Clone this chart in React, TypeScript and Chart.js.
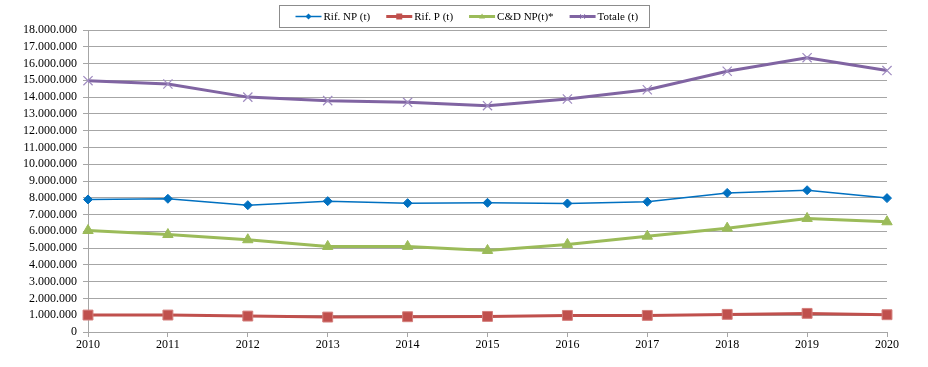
import React, { useEffect, useRef } from 'react';
import { Chart, registerables } from 'chart.js';

Chart.register(...registerables);

const years = ['2010', '2011', '2012', '2013', '2014', '2015', '2016', '2017', '2018', '2019', '2020'];
const rifNP = [7900000, 7940000, 7560000, 7800000, 7680000, 7700000, 7660000, 7760000, 8290000, 8450000, 7980000];
const rifP = [1010000, 1010000, 950000, 890000, 910000, 930000, 990000, 990000, 1050000, 1110000, 1030000];
const cdNP = [6050000, 5810000, 5500000, 5100000, 5100000, 4860000, 5220000, 5710000, 6190000, 6770000, 6570000];
const totale = [14980000, 14780000, 14000000, 13790000, 13690000, 13490000, 13890000, 14440000, 15540000, 16350000, 15580000];
const seriesLabels = ['Rif. NP (t)', 'Rif. P (t)', 'C&D NP(t)*', 'Totale (t)'];

const FONT = '"Liberation Serif", "Times New Roman", serif';

function fmt(v: number): string {
  return String(Math.round(v)).replace(/\B(?=(\d{3})+(?!\d))/g, '.');
}

function drawMarker(ctx: CanvasRenderingContext2D, style: string, x: number, y: number, r: number, fill: string, stroke: string) {
  ctx.beginPath();
  ctx.fillStyle = fill;
  ctx.strokeStyle = stroke;
  ctx.lineWidth = 1;
  if (style === 'rectRot') {
    ctx.moveTo(x, y - r); ctx.lineTo(x + r, y); ctx.lineTo(x, y + r); ctx.lineTo(x - r, y); ctx.closePath();
    ctx.fill();
  } else if (style === 'rect') {
    ctx.rect(x - r, y - r, 2 * r, 2 * r);
    ctx.fill();
  } else if (style === 'triangle') {
    ctx.moveTo(x, y - r); ctx.lineTo(x + r, y + r * 0.7); ctx.lineTo(x - r, y + r * 0.7); ctx.closePath();
    ctx.fill();
  } else {
    ctx.moveTo(x - r, y - r); ctx.lineTo(x + r, y + r);
    ctx.moveTo(x + r, y - r); ctx.lineTo(x - r, y + r);
    ctx.stroke();
  }
}

const boxLegend = {
  id: 'boxLegend',
  afterDraw(chart: any) {
    const ctx: CanvasRenderingContext2D = chart.ctx;
    ctx.save();
    ctx.font = '11px ' + FONT;
    const ds = chart.data.datasets;
    const lineLen = 26, gap = 2, spacing = 16, padL = 16, padR = 11;
    const widths = ds.map((d: any) => ctx.measureText(d.label).width);
    let total = padL + padR + spacing * (ds.length - 1);
    widths.forEach((w: number) => { total += lineLen + gap + w; });
    const bx = Math.round((chart.width - total) / 2) + 0.5;
    const by = 5.5, bh = 22;
    ctx.strokeStyle = '#8c8c8c';
    ctx.lineWidth = 1;
    ctx.strokeRect(bx, by, Math.round(total), bh);
    let x = bx + padL;
    const cy = by + bh / 2;
    ds.forEach((d: any, i: number) => {
      ctx.beginPath();
      ctx.strokeStyle = d.borderColor;
      ctx.lineWidth = d.borderWidth;
      ctx.moveTo(x, cy); ctx.lineTo(x + lineLen, cy);
      ctx.stroke();
      drawMarker(ctx, d.pointStyle, x + lineLen / 2, cy, d.legendMarker, d.pointBackgroundColor, d.pointBorderColor);
      x += lineLen + gap;
      ctx.fillStyle = '#000';
      ctx.textBaseline = 'middle';
      ctx.textAlign = 'left';
      ctx.fillText(d.label, x, cy + 1);
      x += widths[i] + spacing;
    });
    ctx.restore();
  },
};

export default function App() {
  const ref = useRef<HTMLCanvasElement>(null);
  useEffect(() => {
    if (!ref.current) return;
    const chart = new Chart(ref.current, {
      type: 'line',
      data: {
        labels: years,
        datasets: [
          {
            label: seriesLabels[0], data: rifNP, borderColor: '#0070C0', borderWidth: 1.5,
            pointStyle: 'rectRot', pointRadius: 4.5, pointBackgroundColor: '#0070C0', pointBorderColor: '#0070C0', pointBorderWidth: 1,
            legendMarker: 3,
          } as any,
          {
            label: seriesLabels[1], data: rifP, borderColor: '#C0504D', borderWidth: 3,
            pointStyle: 'rect', pointRadius: 7, pointBackgroundColor: '#C0504D', pointBorderColor: '#D47F7C', pointBorderWidth: 1,
            legendMarker: 3,
          } as any,
          {
            label: seriesLabels[2], data: cdNP, borderColor: '#9BBB59', borderWidth: 3,
            pointStyle: 'triangle', pointRadius: 6, pointBackgroundColor: '#9BBB59', pointBorderColor: '#9BBB59', pointBorderWidth: 1,
            legendMarker: 3,
          } as any,
          {
            label: seriesLabels[3], data: totale, borderColor: '#8064A2', borderWidth: 3,
            pointStyle: 'crossRot', pointRadius: 6.5, pointBackgroundColor: '#9F8BC0', pointBorderColor: '#9F8BC0', pointBorderWidth: 1.2,
            legendMarker: 2.5,
          } as any,
        ],
      },
      options: {
        animation: false,
        responsive: false,
        maintainAspectRatio: false,
        layout: { padding: { top: 30, right: 41, left: 0, bottom: 0 } },
        plugins: { legend: { display: false }, tooltip: { enabled: false } },
        elements: { line: { tension: 0 } },
        scales: {
          x: {
            type: 'category',
            offset: false,
            grid: { display: true, drawOnChartArea: false, drawTicks: true, tickLength: 5, color: '#a6a6a6' },
            border: { display: true, color: '#a6a6a6' },
            ticks: { color: '#000', font: { family: FONT, size: 12 }, padding: 1, maxRotation: 0, autoSkip: false },
            afterFit: (s: any) => { s.height = 35; },
          },
          y: {
            min: 0,
            max: 18000000,
            grid: { color: '#a6a6a6', tickLength: 5 },
            border: { display: true, color: '#a6a6a6' },
            ticks: {
              stepSize: 1000000, autoSkip: false, color: '#000', font: { family: FONT, size: 12 }, padding: 6,
              callback: (v: any) => fmt(Number(v)),
            },
            afterFit: (s: any) => { s.width = 88; },
          },
        },
      },
      plugins: [boxLegend],
    });
    return () => chart.destroy();
  }, []);
  return (
    <div style={{ position: 'absolute', left: 0, top: 0, width: 928, height: 367, background: '#fff' }}>
      <canvas ref={ref} width={928} height={367} style={{ width: 928, height: 367, display: 'block' }} />
    </div>
  );
}
